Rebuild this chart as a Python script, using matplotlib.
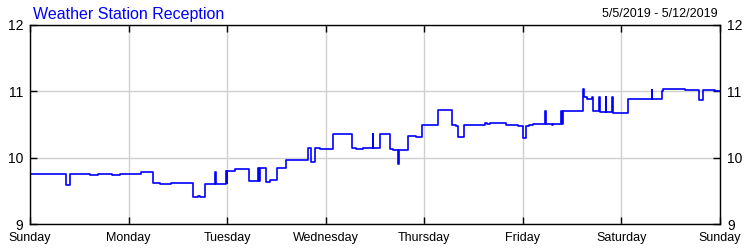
import matplotlib
matplotlib.use("Agg")
import matplotlib.pyplot as plt

plt.rcParams['font.family'] = ['Liberation Sans', 'DejaVu Sans']

title = "Weather Station Reception"
date_range = "5/5/2019 - 5/12/2019"
day_labels = ["Sunday", "Monday", "Tuesday", "Wednesday", "Thursday",
              "Friday", "Saturday", "Sunday"]
y_ticks = [9, 10, 11, 12]

# hours since Sunday 00:00, value held until next point (step)
hours = [0.0, 6.5, 7.86, 8.77, 9.81, 14.6, 16.6, 19.9, 21.9, 25.4, 27.0,
         30.0, 31.7, 34.3, 39.8, 41.0, 41.4, 42.6, 45.0, 45.2, 47.7, 47.85,
         48.0, 49.9, 53.4, 55.6, 55.8, 56.0, 57.5, 58.4, 60.1, 62.4, 65.3,
         67.8, 68.4, 69.4, 70.6, 73.8, 75.5, 78.4, 79.4, 81.0, 83.4, 83.6,
         85.2, 87.7, 88.3, 89.7, 89.9, 92.1, 94.0, 95.5, 99.3, 102.7, 103.7,
         104.1, 105.7, 106.2, 110.8, 111.3, 112.0, 115.8, 118.1, 118.7,
         120.1, 120.7, 121.6, 122.5, 125.5, 125.6, 127.0, 127.4, 129.3,
         129.5, 129.7, 134.7, 134.9, 135.7, 136.8, 137.0, 138.6, 138.8,
         140.2, 140.3, 141.7, 141.9, 143.1, 144.3, 145.7, 146.3, 151.4,
         151.5, 153.8, 154.2, 155.4, 156.6, 159.5, 163.0, 163.9, 166.8, 168.0]
values = [9.75, 9.76, 9.75, 9.59, 9.75, 9.74, 9.75, 9.74, 9.75, 9.76, 9.78,
          9.62, 9.60, 9.62, 9.41, 9.42, 9.40, 9.60, 9.78, 9.61, 9.80, 9.62,
          9.80, 9.83, 9.65, 9.85, 9.65, 9.85, 9.64, 9.66, 9.85, 9.97, 9.96,
          10.14, 9.94, 10.14, 10.13, 10.35, 10.36, 10.14, 10.13, 10.14, 10.36,
          10.14, 10.35, 10.13, 10.11, 9.91, 10.12, 10.32, 10.31, 10.49, 10.72,
          10.50, 10.48, 10.31, 10.49, 10.50, 10.52, 10.51, 10.52, 10.50,
          10.49, 10.47, 10.29, 10.47, 10.49, 10.51, 10.70, 10.51, 10.49,
          10.51, 10.71, 10.51, 10.71, 11.03, 10.92, 10.89, 10.91, 10.71,
          10.91, 10.69, 10.91, 10.69, 10.91, 10.68, 10.67, 10.68, 10.88,
          10.89, 11.02, 10.89, 11.01, 11.03, 11.04, 11.03, 11.02, 10.87,
          11.02, 11.00, 11.00]

fig = plt.figure(figsize=(7.5, 2.5), dpi=100)
ax = fig.add_axes([30/750, 1-224/250, 690/750, 199/250])

ax.plot(hours, values, drawstyle='steps-post', color='#0000ff', lw=1.2)

ax.set_xlim(0, 168)
ax.set_ylim(9, 12)
ax.set_xticks([24*i for i in range(len(day_labels))])
ax.set_xticklabels(day_labels)
ax.set_yticks(y_ticks)
ax.set_yticklabels([str(v) for v in y_ticks])
ax.grid(True, color='#d0d0d0', lw=1)
ax.set_axisbelow(True)
ax.tick_params(direction='in', length=5, width=1, color='black',
               top=True, right=True)
ax.tick_params(axis='x', labelsize=9, pad=6)
ax.tick_params(axis='y', labelsize=10, pad=5, labelright=True)
for s in ax.spines.values():
    s.set_linewidth(1)
    s.set_color('black')

fig.text(33/750, 1-18.5/250, title, color='#0000ff', fontsize=11.5,
         ha='left', va='baseline')
fig.text(718/750, 1-17/250, date_range, color='black', fontsize=9,
         ha='right', va='baseline')

fig.savefig('out.png', dpi=100)
